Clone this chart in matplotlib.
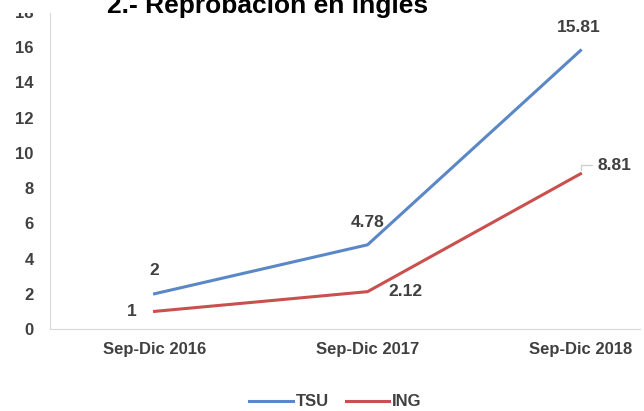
import numpy as np
import matplotlib.pyplot as plt
from matplotlib.patches import Rectangle

plt.rcParams['font.family'] = ['Liberation Sans', 'DejaVu Sans']

periodos = ['Sep-Dic 2016', 'Sep-Dic 2017', 'Sep-Dic 2018']
tsu = [2, 4.78, 15.81]
ing = [1, 2.12, 8.81]
tsu_txt = ['2', '4.78', '15.81']
ing_txt = ['1', '2.12', '8.81']

azul = '#5a87c6'
rojo = '#c9504e'
gris = '#404040'

fig = plt.figure(figsize=(6.44, 4.11), dpi=100)
ax = fig.add_axes([0.078, 0.1995, 0.916, 0.7715])
x = np.arange(len(periodos))
ax.plot(x, tsu, color=azul, lw=2.2, label='TSU')
ax.plot(x, ing, color=rojo, lw=2.2, label='ING')

# etiquetas de datos
kw = dict(fontsize=12.5, fontweight='bold', color=gris, textcoords='offset points')
ax.annotate(tsu_txt[0], (x[0], tsu[0]), xytext=(0, 11), ha='center', va='bottom', **kw)
ax.annotate(tsu_txt[1], (x[1], tsu[1]), xytext=(0, 11), ha='center', va='bottom', **kw)
ax.annotate(tsu_txt[2], (x[2], tsu[2]), xytext=(-1, 11), ha='center', va='bottom', **kw)
ax.annotate(ing_txt[0], (x[0], ing[0]), xytext=(-13, 0), ha='right', va='center', **kw)
ax.annotate(ing_txt[1], (x[1], ing[1]), xytext=(15, 0), ha='left', va='center', **kw)
ax.annotate(ing_txt[2], (x[2], ing[2]), xytext=(12, 6), ha='left', va='center',
            arrowprops=dict(arrowstyle='-', color='#d0d0d0', lw=1, shrinkA=2, shrinkB=3,
                            connectionstyle='angle,angleA=0,angleB=90,rad=0'), **kw)

ax.set_xlim(-0.49, 2.28)
ax.set_ylim(0, 18)
ax.set_yticks(np.arange(0, 19, 2))
ax.set_xticks(x)
ax.set_xticklabels(periodos)
for lab in ax.get_xticklabels() + ax.get_yticklabels():
    lab.set_fontweight('bold')
    lab.set_color(gris)
    lab.set_fontsize(12)
ax.tick_params(length=0, pad=9)
ax.tick_params(axis='y', pad=12)
for s in ['top', 'right']:
    ax.spines[s].set_visible(False)
for s in ['left', 'bottom']:
    ax.spines[s].set_color('#d9d9d9')

# la imagen original viene recortada por arriba
fig.patches.append(Rectangle((0, 1 - 13 / 411), 1, 13 / 411, transform=fig.transFigure,
                             facecolor='white', edgecolor='none', zorder=10))

fig.text(0.416, 0.968, '2.- Reprobación en inglés', ha='center', va='baseline',
         fontsize=19, fontweight='bold', color='black', zorder=11)

leg = fig.legend(loc='center', bbox_to_anchor=(0.521, 0.022), ncol=2, frameon=False,
                 prop={'weight': 'bold', 'size': 12}, handlelength=2.6, columnspacing=1.0,
                 handletextpad=0.2)
for t in leg.get_texts():
    t.set_color(gris)

fig.savefig('out.png', dpi=100)
